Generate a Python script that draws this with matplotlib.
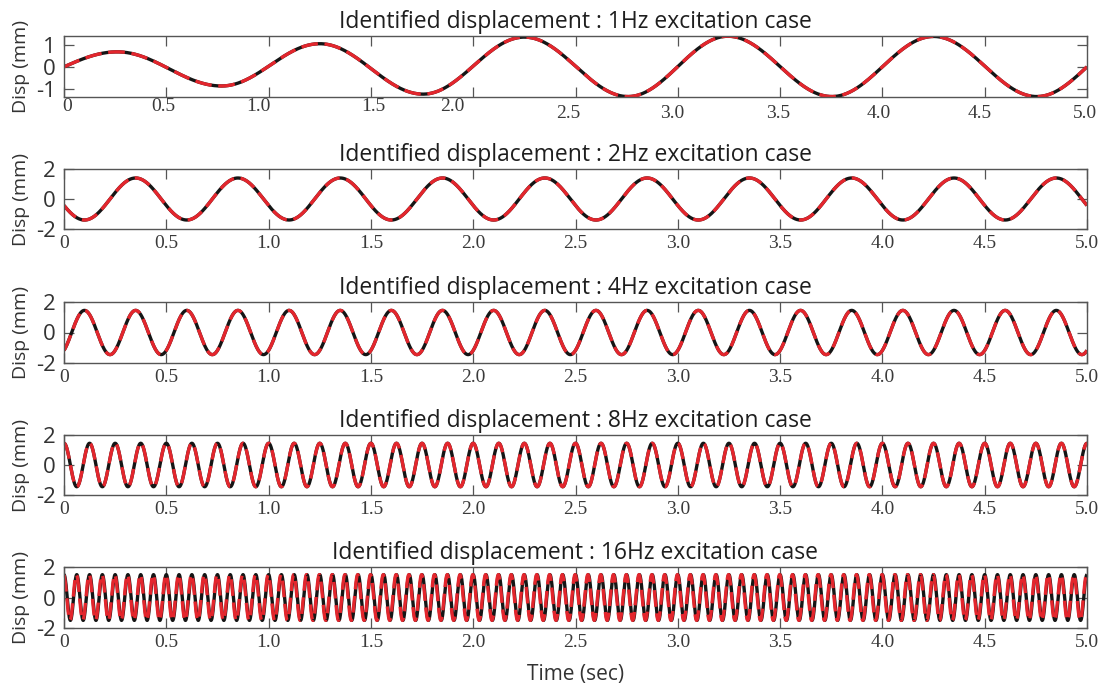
import matplotlib
matplotlib.use("Agg")
import matplotlib.pyplot as plt
import matplotlib.transforms as mtransforms
import numpy as np

# ---- data ----
freqs = [1, 2, 4, 8, 16]
titles = [f"Identified displacement : {f}Hz excitation case" for f in freqs]

# 1 Hz case: zero crossing, extrema (time, mm), zero crossing
ext1_t = [0.0, 0.26, 0.77, 1.25, 1.755, 2.25, 2.757, 3.245, 3.753, 4.25, 4.755, 5.0]
ext1_v = [0.0, 0.68, -0.87, 1.05, -1.24, 1.35, -1.35, 1.39, -1.35, 1.38, -1.35, 0.0]

# steady cases: amplitude (mm), time of first peak (s), red lead (s)
amps = [1.40, 1.45, 1.45, 1.50]
first_peak = [0.35, 0.10, 0.0, 0.0]
red_lead = [0.0, 0.0, 0.0, 0.002]

xticks = [0, 0.5, 1.0, 1.5, 2.0, 2.5, 3.0, 3.5, 4.0, 4.5, 5.0]
xtick_labels = ["0", "0.5", "1.0", "1.5", "2.0", "2.5", "3.0", "3.5", "4.0", "4.5", "5.0"]
ylims = [(-1.37, 1.40), (-2, 2), (-2, 2), (-2, 2), (-2, 2)]
yticks = [[-1, 0, 1], [-2, 0, 2], [-2, 0, 2], [-2, 0, 2], [-2, 0, 2]]

# odd label shifts (px) seen on the first panel
shift_dx = [3, -3, -10, 2, -21, -7, -6, -2, -4, -5, -2]
shift_dy = [-5, -5, -5, -5, -5, 2, 2, 2, 2, 2, 2]


def case1_curve(t):
    """smooth curve through the read extrema of the 1Hz case"""
    y = np.zeros_like(t)
    n = len(ext1_t)
    for i in range(n - 1):
        a, b = ext1_t[i], ext1_t[i + 1]
        m = (t >= a) & (t <= b)
        s = (t[m] - a) / (b - a)
        if i == 0:
            y[m] = ext1_v[1] * np.sin(np.pi / 2 * s)
        elif i == n - 2:
            y[m] = ext1_v[i] * np.cos(np.pi / 2 * s)
        else:
            y[m] = ext1_v[i] + (ext1_v[i + 1] - ext1_v[i]) * (1 - np.cos(np.pi * s)) / 2
    return y


t = np.linspace(0, 5, 6001)

plt.rcParams["font.family"] = ["Open Sans", "DejaVu Sans"]
fig = plt.figure(figsize=(11.06, 6.91), dpi=100)

tops = [36, 169, 302, 435, 567]
bottoms = [97, 229, 363, 495, 628]
W, H = 1106, 691
left, right = 64, 1087

black = "#151515"
red = "#e3262d"
frame = "#555555"
txt = "#1e1e1e"

for k in range(5):
    ax = fig.add_axes([left / W, 1 - bottoms[k] / H, (right - left) / W,
                       (bottoms[k] - tops[k]) / H])
    if k == 0:
        y_true = case1_curve(t)
        y_id = y_true
    else:
        f = freqs[k]
        y_true = amps[k - 1] * np.cos(2 * np.pi * f * (t - first_peak[k - 1]))
        y_id = amps[k - 1] * np.cos(2 * np.pi * f * (t - first_peak[k - 1] + red_lead[k - 1]))

    ax.plot(t, y_true, color=black, lw=2.4, solid_capstyle="butt")
    ax.plot(t, y_id, color=red, lw=2.4, dashes=(5, 2))

    ax.set_xlim(0, 5)
    ax.set_ylim(*ylims[k])
    ax.set_xticks(xticks)
    ax.set_xticklabels(xtick_labels, family="Liberation Serif", fontsize=14, color="#3a3a3a")
    ax.set_yticks(yticks[k])
    ax.set_yticklabels([str(v) for v in yticks[k]], fontsize=16, color="#333333")
    ax.tick_params(direction="in", length=7, width=0.9, color=frame,
                   top=True, right=True)
    ax.tick_params(axis="x", pad=4)
    ax.tick_params(axis="y", pad=6)
    for sp in ax.spines.values():
        sp.set_color(frame)
        sp.set_linewidth(1.0)

    ax.set_title(titles[k], fontsize=16.5, color=txt, pad=6)
    ax.set_ylabel("Disp (mm)", fontsize=14, color="#333333")
    ax.yaxis.set_label_coords(-0.033, 0.5)

    if k == 0:
        for lab, dx, dy in zip(ax.get_xticklabels(), shift_dx, shift_dy):
            off = mtransforms.ScaledTranslation(dx / 100, -dy / 100, fig.dpi_scale_trans)
            lab.set_transform(lab.get_transform() + off)

    if k == 4:
        ax.set_xlabel("Time (sec)", fontsize=15, color="#333333", labelpad=10)

fig.savefig("out.png", dpi=100)
